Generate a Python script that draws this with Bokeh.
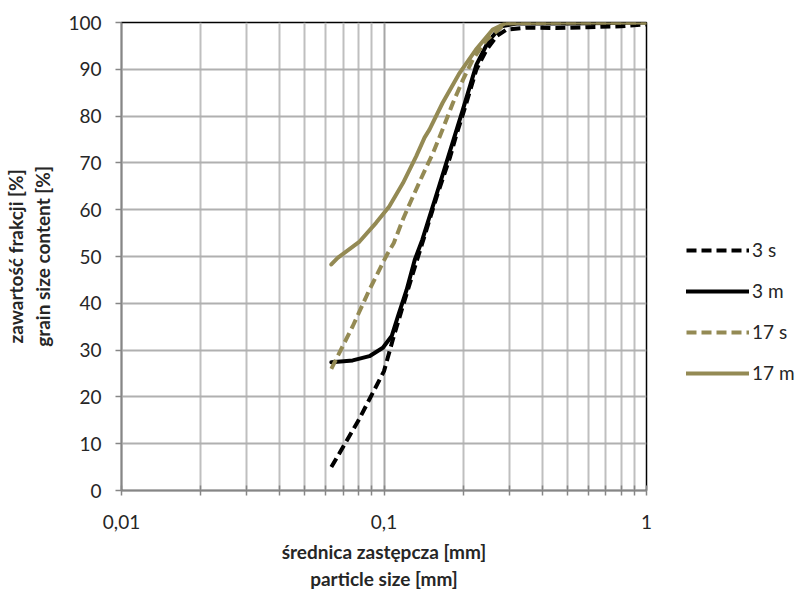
from bokeh.plotting import figure
from bokeh.models import FixedTicker, Legend, LegendItem, Range1d
from bokeh.embed import file_html
from bokeh.resources import INLINE

# ---- data ----
s3_x = [0.063, 0.08, 0.1, 0.109, 0.118, 0.129, 0.14, 0.159, 0.178, 0.188, 0.206,
        0.225, 0.246, 0.269, 0.293, 0.35, 0.45, 0.6, 0.8, 1.0]
s3_y = [5, 15, 25.5, 33, 39.4, 46.5, 52.9, 62.9, 71, 75.7, 82.8,
        90, 94.2, 97.1, 98.5, 98.9, 98.8, 99, 99.2, 99.6]

m3_x = [0.063, 0.076, 0.088, 0.099, 0.107, 0.113, 0.122, 0.131, 0.14, 0.16, 0.2,
        0.225, 0.25, 0.28, 0.32, 0.5, 1.0]
m3_y = [27.4, 27.8, 28.7, 30.5, 33, 37.2, 42.9, 49.3, 53.6, 64, 81.5,
        91, 96, 99.2, 99.8, 99.8, 100]

s17_x = [0.063, 0.076, 0.088, 0.102, 0.109, 0.118, 0.124, 0.138, 0.154, 0.167, 0.183,
         0.2, 0.218, 0.245, 0.29, 0.5, 1.0]
s17_y = [26, 35.1, 42.9, 50.1, 52.9, 57.9, 60.7, 66.5, 72.2, 77.1, 82.8,
         87.8, 92.1, 96.2, 99.8, 100, 100]

m17_x = [0.063, 0.0666, 0.0807, 0.0933, 0.1047, 0.1181, 0.1326, 0.1427, 0.149, 0.1671,
         0.194, 0.224, 0.2596, 0.2923, 0.5, 1.0]
m17_y = [48.3, 49.7, 53.2, 57.2, 60.7, 65.7, 71.4, 75.4, 77.1, 82.8,
         89.2, 94.2, 98.5, 99.9, 100, 100]

series_names = ["3 s", "3 m", "17 s", "17 m"]

x_major = [0.01, 0.1, 1]
x_major_labels = ["0,01", "0,1", "1"]
x_minor = [0.02, 0.03, 0.04, 0.05, 0.06, 0.07, 0.08, 0.09,
           0.2, 0.3, 0.4, 0.5, 0.6, 0.7, 0.8, 0.9]
y_ticks = [0, 10, 20, 30, 40, 50, 60, 70, 80, 90, 100]

BLACK = "#000000"
OLIVE = "#948A54"
FONT = "Lato"
TXT = "#262626"

p = figure(frame_width=525, frame_height=468, x_axis_type="log",
           x_range=Range1d(0.01, 1), y_range=Range1d(0, 100),
           output_backend="svg", toolbar_location=None,
           min_border_left=100, min_border_right=140,
           min_border_top=22, min_border_bottom=94)

p.background_fill_color = "white"
p.border_fill_color = "white"
p.outline_line_color = "#000000"
p.outline_line_width = 1.5

# grids
p.xgrid.ticker = FixedTicker(ticks=x_major, minor_ticks=x_minor)
p.ygrid.ticker = FixedTicker(ticks=y_ticks)
p.xgrid.grid_line_color = "#a6a6a6"
p.xgrid.grid_line_width = 2
p.xgrid.minor_grid_line_color = "#bfbfbf"
p.xgrid.minor_grid_line_width = 2
p.ygrid.grid_line_color = "#b0b0b0"
p.ygrid.grid_line_width = 2

# x axis
xa = p.xaxis[0]
xa.ticker = FixedTicker(ticks=x_major, minor_ticks=x_minor)
xa.major_label_overrides = {t: l for t, l in zip(x_major, x_major_labels)}
xa.axis_line_color = "#868686"
xa.axis_line_width = 1.5
xa.major_tick_line_color = "#868686"
xa.minor_tick_line_color = "#868686"
xa.major_tick_line_width = 1.5
xa.minor_tick_line_width = 1.5
xa.major_tick_in = 5
xa.major_tick_out = 5
xa.minor_tick_in = 5
xa.minor_tick_out = 5
xa.major_label_standoff = 19
xa.major_label_text_font = FONT
xa.major_label_text_font_size = "19px"
xa.major_label_text_color = TXT
xa.axis_label = "średnica zastępcza [mm]\nparticle size [mm]"
xa.axis_label_text_font = FONT
xa.axis_label_text_font_size = "19px"
xa.axis_label_text_font_style = "bold"
xa.axis_label_text_color = TXT
xa.axis_label_standoff = 8

# y axis
ya = p.yaxis[0]
ya.ticker = FixedTicker(ticks=y_ticks)
ya.axis_line_color = "#868686"
ya.axis_line_width = 1.5
ya.major_tick_line_color = "#868686"
ya.major_tick_line_width = 1.5
ya.major_tick_in = 0
ya.major_tick_out = 6
ya.minor_tick_line_color = None
ya.major_label_standoff = 14
ya.major_label_text_font = FONT
ya.major_label_text_font_size = "19px"
ya.major_label_text_color = TXT
ya.axis_label = "zawartość frakcji [%]\ngrain size content [%]"
ya.axis_label_text_font = FONT
ya.axis_label_text_font_size = "19px"
ya.axis_label_text_font_style = "bold"
ya.axis_label_text_color = TXT
ya.axis_label_standoff = 11

# series
r1 = p.line(s3_x, s3_y, line_color=BLACK, line_width=4, line_dash="10 5", line_join="round")
r2 = p.line(m3_x, m3_y, line_color=BLACK, line_width=4, line_join="round", line_cap="round")
r3 = p.line(s17_x, s17_y, line_color=OLIVE, line_width=4, line_dash="10 5", line_join="round")
r4 = p.line(m17_x, m17_y, line_color=OLIVE, line_width=4, line_join="round", line_cap="round")

legend = Legend(items=[LegendItem(label=n, renderers=[r]) for n, r in zip(series_names, [r1, r2, r3, r4])],
                location=(40, 106), orientation="vertical",
                glyph_width=63, glyph_height=20, label_height=20,
                label_standoff=3, spacing=18, padding=0, margin=0,
                label_text_font=FONT, label_text_font_size="19px",
                label_text_color=TXT,
                border_line_color=None, background_fill_alpha=0)
p.add_layout(legend, "right")

open("out.html", "w").write(file_html(p, INLINE))
